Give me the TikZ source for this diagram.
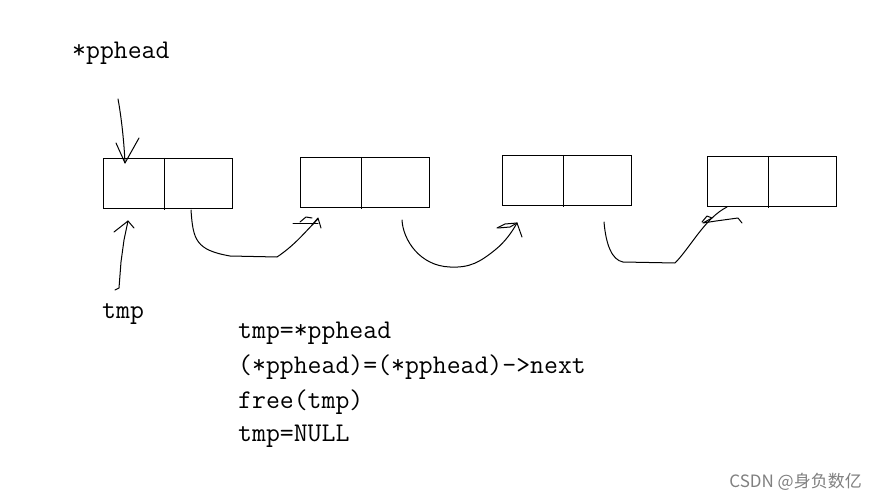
\documentclass[tikz,border=0pt]{standalone}
\usepackage{fontspec}
\newfontfamily\cjk{Noto Sans CJK SC}
\begin{document}
\begin{tikzpicture}[x=1pt,y=-1pt,
  box/.style={draw=black,line width=1pt,minimum width=129pt,minimum height=50pt,inner sep=0pt,anchor=north west},
  hand/.style={draw=black,line width=1pt,line join=round,line cap=round},
  code/.style={anchor=west,inner sep=0pt,text=black,font=\fontsize{27}{27}\selectfont\ttfamily}]
\useasboundingbox[fill=white] (0,0) rectangle (879,500);
% boxes
\node[box] (b1) at (103,158) {};
\node[box] (b2) at (300,157) {};
\node[box] (b3) at (502,155) {};
\node[box] (b4) at (707,156) {};
\draw[line width=1pt] (164,158) -- (164,210);
\draw[line width=1pt] (361,157) -- (361,209);
\draw[line width=1pt] (563,155) -- (563,207);
\draw[line width=1pt] (768,156) -- (768,208);
% labels
\node[code] (ph) at (72,53) {*pphead};
\node[code] (tp) at (102,314) {tmp};
\node[code] (l1) at (238,333) {tmp=*pphead};
\node[code] (l2) at (238,367) {(*pphead)=(*pphead)->next};
\node[code] (l3) at (238,402) {free(tmp)};
\node[code] (l4) at (238,436) {tmp=NULL};
\node[anchor=east,inner sep=0pt,text=black!50,font=\cjk\fontsize{17}{17}\selectfont] (wm) at (862,482) {CSDN @身负数亿};
% pphead arrow
\coordinate (pa) at (118,99);
\coordinate (pt) at (125,163);
\draw[hand] (pa) .. controls (121,115) and (124,140) .. (pt);
\draw[hand] (116,143) -- (pt) -- (139,138);
% tmp arrow
\coordinate (ta) at (115,290);
\coordinate (tt) at (128,221);
\draw[hand] (ta) -- (119,288) -- (121,262) -- (124,240) -- (tt);
\draw[hand] (114,232) -- (tt) -- (134,228);
% curve 1
\coordinate (c1s) at (191,210);
\coordinate (c1e) at (318,219);
\draw[hand] (c1s) .. controls (193,240) and (196,250) .. (230,256) -- (277,257) .. controls (295,245) and (305,232) .. (c1e);
\draw[hand] (293,224) -- (318,224);
\draw[hand] (300,222) -- (306,217) -- (312,218);
\draw[hand] (312,225) -- (318,218) -- (321,228);
% curve 2
\coordinate (c2s) at (402,220);
\coordinate (c2e) at (517,223);
\draw[hand] (c2s) .. controls (403,240) and (420,266) .. (450,267) .. controls (470,268) and (480,262) .. (495,250) .. controls (505,242) and (512,232) .. (c2e);
\draw[hand] (497,228) -- (505,224) -- (517,223) -- (522,237);
\draw[hand] (498,228) -- (510,227) -- (517,223);
% curve 3
\coordinate (c3s) at (604,222);
\coordinate (c3e) at (727,207);
\draw[hand] (c3s) .. controls (606,245) and (612,260) .. (623,262) -- (675,263) .. controls (690,248) and (705,218) .. (c3e);
\draw[hand] (702,222) -- (707,216) -- (712,218) -- (703,223) -- (716,221) -- (738,218) -- (742,223);
\end{tikzpicture}
\end{document}
